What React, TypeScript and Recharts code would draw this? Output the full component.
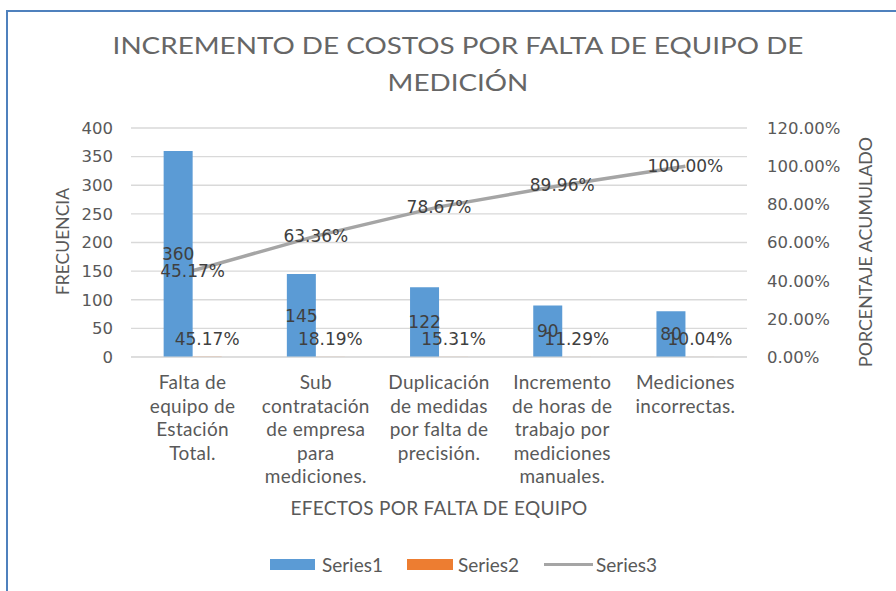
import React from 'react';
import { ComposedChart, Bar, Line, XAxis, YAxis, CartesianGrid, LabelList, Legend } from 'recharts';

const categories = [
  'Falta de\nequipo de\nEstación\nTotal.',
  'Sub\ncontratación\nde empresa\npara\nmediciones.',
  'Duplicación\nde medidas\npor falta de\nprecisión.',
  'Incremento\nde horas de\ntrabajo por\nmediciones\nmanuales.',
  'Mediciones\nincorrectas.',
];
const series1 = [360, 145, 122, 90, 80];
const series2 = [0.4517, 0.1819, 0.1531, 0.1129, 0.1004];
const series3 = [0.4517, 0.6336, 0.7867, 0.8996, 1.0];
const leftTicks = [0, 50, 100, 150, 200, 250, 300, 350, 400];
const rightTicks = [0, 0.2, 0.4, 0.6, 0.8, 1.0, 1.2];

const data = categories.map((c, i) => ({ name: c, s1: series1[i], s2: series2[i], s3: series3[i] }));

const TEXT = '#595959';
const LABEL = '#404040';
const NUMFONT = '"DejaVu Sans", sans-serif';
const TXTFONT = 'Lato, sans-serif';
const pct = (v: any) => `${(Number(v) * 100).toFixed(2)}%`;

const CategoryTick = (props: any) => {
  const { x, y, payload } = props;
  const lines = String(payload.value).split('\n');
  return (
    <text x={x} y={y} textAnchor="middle" fill={TEXT} fontFamily={TXTFONT} fontSize={19} letterSpacing={0.3}>
      {lines.map((l: string, i: number) => (
        <tspan key={i} x={x} dy={i === 0 ? 24 : 23.5}>{l}</tspan>
      ))}
    </text>
  );
};

const LegendContent = () => (
  <div style={{ display: 'flex', justifyContent: 'center', alignItems: 'center', height: 26, fontFamily: TXTFONT, fontSize: 19, color: TEXT, paddingLeft: 31 }}>
    <span style={{ display: 'inline-block', width: 45, height: 11, background: '#5B9BD5', marginRight: 7 }} />
    <span style={{ marginRight: 24 }}>Series1</span>
    <span style={{ display: 'inline-block', width: 46, height: 11, background: '#ED7D31', marginRight: 5 }} />
    <span style={{ marginRight: 25 }}>Series2</span>
    <span style={{ display: 'inline-block', width: 49, height: 3, background: '#A5A5A5', marginRight: 3 }} />
    <span>Series3</span>
  </div>
);

export default function App() {
  return (
    <div style={{ position: 'absolute', left: 0, top: 0, width: 896, height: 591, background: '#fff', overflow: 'hidden' }}>
      <div style={{ position: 'absolute', left: 6, top: 10, width: 900, height: 600, borderTop: '2.5px solid #4F81BD', borderLeft: '2.5px solid #4F81BD' }} />
      <div style={{ position: 'absolute', left: 0, top: 27, width: 916, textAlign: 'center', fontFamily: TXTFONT, fontWeight: 400, fontSize: 23, lineHeight: '37px', color: '#666666', transform: 'scaleX(1.21)', transformOrigin: '458px 0' }}>
        INCREMENTO DE COSTOS POR FALTA DE EQUIPO DE<br />MEDICIÓN
      </div>
      <div style={{ position: 'absolute', left: 0, top: 0 }}>
        <ComposedChart width={896} height={591} data={data} margin={{ top: 128, right: 0, left: 0, bottom: 0 }}
          barCategoryGap="26.5%" barGap={0}>
          <CartesianGrid vertical={false} stroke="#D9D9D9" strokeWidth={1.3} yAxisId="left" />
          <XAxis dataKey="name" tick={<CategoryTick />} tickLine={false} axisLine={{ stroke: '#D9D9D9' }} height={194} interval={0}
            label={(p: any) => {
              const vb = p.viewBox;
              return <text x={vb.x + vb.width / 2} y={vb.y + 158} textAnchor="middle" fill={TEXT} fontFamily={TXTFONT} fontSize={19} letterSpacing={0.3}>EFECTOS POR FALTA DE EQUIPO</text>;
            }} />
          <YAxis yAxisId="left" orientation="left" width={131} domain={[0, 400]} ticks={leftTicks} interval={0}
            tickLine={false} axisLine={false} tickMargin={12} tick={{ fill: TEXT, fontFamily: NUMFONT, fontSize: 16.5 }}
            label={(p: any) => {
              const vb = p.viewBox;
              const cx = vb.x + 62; const cy = vb.y + vb.height / 2 - 1;
              return <text x={cx} y={cy} transform={`rotate(-90 ${cx} ${cy})`} textAnchor="middle" dominantBaseline="central" fill={TEXT} fontFamily={TXTFONT} fontSize={17.5}>FRECUENCIA</text>;
            }} />
          <YAxis yAxisId="right" orientation="right" width={149} domain={[0, 1.2]} ticks={rightTicks} interval={0}
            tickLine={false} axisLine={false} tickMargin={14} tickFormatter={pct} tick={{ fill: TEXT, fontFamily: NUMFONT, fontSize: 16.5 }}
            label={(p: any) => {
              const vb = p.viewBox;
              const cx = vb.x + 118; const cy = vb.y + vb.height / 2 + 9.5;
              return <text x={cx} y={cy} transform={`rotate(-90 ${cx} ${cy})`} textAnchor="middle" dominantBaseline="central" fill={TEXT} fontFamily={TXTFONT} fontSize={17.8}>PORCENTAJE ACUMULADO</text>;
            }} />
          <Legend verticalAlign="bottom" content={<LegendContent />} wrapperStyle={{ height: 40 }} />
          <Bar yAxisId="left" dataKey="s1" name="Series1" fill="#5B9BD5" isAnimationActive={false}>
            <LabelList dataKey="s1" position="center" fill={LABEL} fontFamily={NUMFONT} fontSize={17} />
          </Bar>
          <Bar yAxisId="left" dataKey="s2" name="Series2" fill="#ED7D31" isAnimationActive={false}>
            <LabelList dataKey="s2" position="top" offset={12} formatter={pct} fill={LABEL} fontFamily={NUMFONT} fontSize={17} />
          </Bar>
          <Line yAxisId="right" dataKey="s3" name="Series3" stroke="#A5A5A5" strokeWidth={3.5} dot={false} isAnimationActive={false}>
            <LabelList dataKey="s3" position="center" formatter={pct} fill={LABEL} fontFamily={NUMFONT} fontSize={17} />
          </Line>
        </ComposedChart>
      </div>
    </div>
  );
}
